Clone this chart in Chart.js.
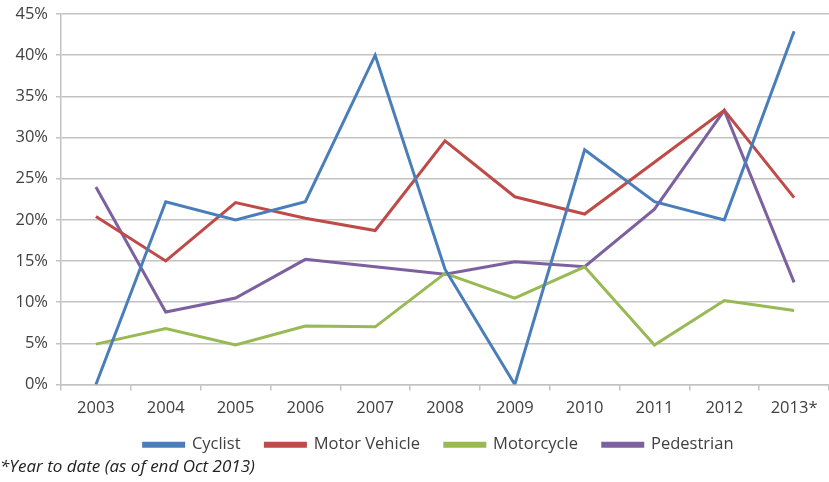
<!DOCTYPE html>
<html>
<head>
<meta charset="utf-8">
<script src="https://cdn.jsdelivr.net/npm/chart.js@4"></script>
<style>
  html, body { margin: 0; padding: 0; background: #fff; }
  #wrap { position: relative; width: 829px; height: 482px; }
</style>
</head>
<body>
<div id="wrap"><canvas id="chart" width="829" height="482"></canvas></div>
<script>
// Data (share of fatalities, %)
const years = ["2003", "2004", "2005", "2006", "2007", "2008", "2009", "2010", "2011", "2012", "2013*"];
const cyclist = [0, 22.2, 20.0, 22.2, 40.0, 14.0, 0, 28.5, 22.2, 20.0, 42.9];
const motorVehicle = [20.4, 15.0, 22.1, 20.2, 18.7, 29.6, 22.8, 20.7, 27.0, 33.3, 22.7];
const motorcycle = [4.9, 6.8, 4.8, 7.1, 7.0, 13.5, 10.5, 14.3, 4.8, 10.2, 9.0];
const pedestrian = [24.0, 8.8, 10.5, 15.2, 14.3, 13.4, 14.9, 14.3, 21.3, 33.3, 12.4];
const yTicks = [0, 5, 10, 15, 20, 25, 30, 35, 40, 45];

const footnote = "*Year to date (as of end Oct 2013)";
const FONT = "'Open Sans', 'DejaVu Sans', sans-serif";
const TEXT = "#404040";
const GRID = "#c3c3c3";

function series(label, data, color) {
  return {
    label: label,
    data: data,
    borderColor: color,
    backgroundColor: color,
    borderWidth: 3,
    pointRadius: 0,
    tension: 0,
    fill: false
  };
}

// Footnote drawn on the canvas below the legend
const footnotePlugin = {
  id: "footnote",
  afterDraw(chart) {
    const ctx = chart.ctx;
    ctx.save();
    ctx.font = "italic 17px " + FONT;
    ctx.fillStyle = "#222";
    ctx.textBaseline = "middle";
    ctx.textAlign = "left";
    ctx.fillText(footnote, 0, 467);
    ctx.restore();
  }
};

const ctx = document.getElementById("chart").getContext("2d");
new Chart(ctx, {
  type: "line",
  data: {
    labels: years,
    datasets: [
      series("Cyclist", cyclist, "#4a7ebb"),
      series("Motor Vehicle", motorVehicle, "#be4b48"),
      series("Motorcycle", motorcycle, "#98b954"),
      series("Pedestrian", pedestrian, "#7d60a0")
    ]
  },
  options: {
    responsive: false,
    maintainAspectRatio: false,
    animation: false,
    layout: { padding: { top: 14, right: 0, bottom: 19, left: 0 } },
    plugins: {
      tooltip: { enabled: false },
      legend: {
        position: "bottom",
        fullSize: false,
        labels: {
          boxWidth: 40,
          boxHeight: 3,
          padding: 12,
          color: TEXT,
          font: { family: FONT, size: 16.5 },
          // wider gap between legend entries, as in the original
          generateLabels(chart) {
            return Chart.defaults.plugins.legend.labels.generateLabels(chart).map(item => {
              item.text = item.text + "   ";
              return item;
            });
          }
        }
      }
    },
    scales: {
      x: {
        offset: true,
        grid: { display: true, drawOnChartArea: false, offset: true, tickLength: 6, color: GRID, lineWidth: 1.5 },
        border: { display: true, color: GRID, width: 1.5 },
        ticks: { color: TEXT, font: { family: FONT, size: 16.5 }, padding: 8, maxRotation: 0 },
        afterFit(scale) { scale.height = 40; }
      },
      y: {
        min: 0,
        max: 45,
        afterBuildTicks(scale) { scale.ticks = yTicks.map(v => ({ value: v })); },
        grid: { color: GRID, lineWidth: 1.5, tickLength: 5 },
        border: { display: true, color: GRID, width: 1.5 },
        ticks: {
          color: TEXT,
          font: { family: FONT, size: 16.5 },
          padding: 8,
          callback: v => v + "%"
        },
        afterFit(scale) {
          scale.width = 61;
          scale.paddingTop = 0;
          scale.paddingBottom = 0;
        }
      }
    }
  },
  plugins: [footnotePlugin]
});
</script>
</body>
</html>
